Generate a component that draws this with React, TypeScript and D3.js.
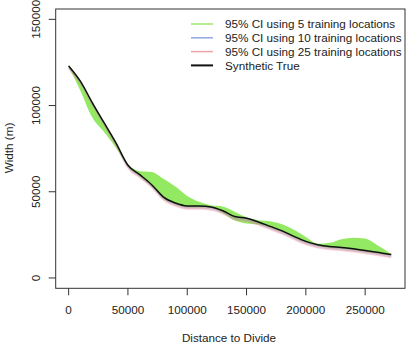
import React from 'react';
import * as d3 from 'd3';

// distance to divide (m)
const dist = [0, 10000, 20000, 30000, 40000, 50000, 60000, 70000, 80000, 90000, 100000, 110000, 120000, 130000, 140000, 150000, 160000, 170000, 180000, 190000, 200000, 210000, 220000, 230000, 240000, 250000, 260000, 270000, 272000];

// synthetic true width
const truth = [123000, 114000, 101600, 89900, 78200, 65400, 59900, 54100, 46900, 43500, 41800, 41700, 41200, 39000, 35600, 34600, 32500, 29900, 27300, 24100, 21200, 19300, 18200, 17700, 16900, 15900, 14900, 13800, 13600];

// 95% CI, 5 training locations
const ci5Lo = [122500, 108500, 93000, 84500, 75400, 64700, 58900, 53100, 45900, 42600, 40900, 40800, 40600, 37500, 33300, 31600, 31000, 29000, 26500, 23300, 20400, 18500, 17400, 16900, 16100, 15100, 14200, 13200, 13100];
const ci5Hi = [123500, 114600, 102200, 90500, 78800, 66200, 61900, 61500, 57500, 53000, 47600, 44200, 42200, 41500, 38400, 35200, 33500, 32900, 31100, 27900, 23700, 19900, 20400, 22500, 23300, 22900, 19100, 14800, 13900];

// 95% CI, 10 training locations
const ci10Lo = [121400, 112400, 100000, 88300, 76600, 63800, 58300, 52500, 45300, 41900, 40200, 40100, 39600, 37400, 34000, 33000, 30900, 28300, 25700, 22500, 19600, 17700, 16600, 16100, 15300, 14300, 13300, 12200, 12000];
const ci10Hi = [123200, 114200, 101800, 90100, 78400, 65600, 60100, 54300, 47100, 43700, 42000, 41900, 41400, 39200, 35800, 34800, 32700, 30100, 27500, 24300, 21400, 19500, 18400, 17900, 17100, 16100, 15100, 14000, 13800];

// 95% CI, 25 training locations
const ci25Lo = [120800, 111800, 99400, 87700, 76000, 63200, 57700, 51900, 44700, 41300, 39600, 39500, 39000, 36800, 33400, 32400, 30300, 27700, 25100, 21900, 19000, 17100, 16000, 15500, 14700, 13700, 12700, 11600, 11400];
const ci25Hi = [122600, 113600, 101200, 89500, 77800, 65000, 59500, 53700, 46500, 43100, 41400, 41300, 40800, 38600, 35200, 34200, 32100, 29500, 26900, 23700, 20800, 18900, 17800, 17300, 16500, 15500, 14500, 13400, 13200];

const xTicks = [0, 50000, 100000, 150000, 200000, 250000];
const yTicks = [0, 50000, 100000, 150000];

const legendItems = [
  { label: '95% CI using 5 training locations', color: '#9be86c', w: 1.5 },
  { label: '95% CI using 10 training locations', color: '#93a6e2', w: 1.5 },
  { label: '95% CI using 25 training locations', color: '#eea3aa', w: 1.5 },
  { label: 'Synthetic True', color: '#111', w: 2 },
];

const W = 419, H = 351;
const box = { left: 55.7, right: 405, top: 9, bottom: 288.3 };
const FONT = '"Liberation Sans", Arial, Helvetica, sans-serif';
const FS = 11.7;

export default function App() {
  const x = d3.scaleLinear().domain([-10900, 283600]).range([box.left, box.right]);
  const y = d3.scaleLinear().domain([-6000, 156000]).range([box.bottom, box.top]);

  const band = (lo: number[], hi: number[]) =>
    d3.area<number>()
      .x((_, i) => x(dist[i]))
      .y0((_, i) => y(lo[i]))
      .y1((_, i) => y(hi[i]))
      .curve(d3.curveMonotoneX)(dist);

  const truthLine = d3.line<number>()
    .x((_, i) => x(dist[i]))
    .y((_, i) => y(truth[i]))
    .curve(d3.curveMonotoneX)(dist);

  return (
    <svg width={W} height={H} style={{ position: 'absolute', left: 0, top: 0, background: '#fff' }}
      fontFamily={FONT} fontSize={FS}>
      <rect width={W} height={H} fill="#fff" />

      {/* bands */}
      <path d={band(ci5Lo, ci5Hi) || ''} fill="#93ea62" />
      <path d={band(ci10Lo, ci10Hi) || ''} fill="rgba(120,140,230,0.35)" />
      <path d={band(ci25Lo, ci25Hi) || ''} fill="rgba(240,130,140,0.35)" />
      <path d={truthLine || ''} fill="none" stroke="#111" strokeWidth={1.5} />

      {/* box */}
      <rect x={box.left} y={box.top} width={box.right - box.left} height={box.bottom - box.top}
        fill="none" stroke="#333" strokeWidth={1} />

      {/* x axis */}
      {xTicks.map(t => (
        <g key={'x' + t}>
          <line x1={x(t)} x2={x(t)} y1={box.bottom} y2={box.bottom + 7} stroke="#333" />
          <text x={x(t)} y={314} textAnchor="middle" fill="#222">{t}</text>
        </g>
      ))}
      <text x={229} y={341.5} textAnchor="middle" fill="#222">Distance to Divide</text>

      {/* y axis */}
      {yTicks.map(t => (
        <g key={'y' + t}>
          <line x1={box.left - 7} x2={box.left} y1={y(t)} y2={y(t)} stroke="#333" />
          <text transform={`translate(39.5,${y(t)}) rotate(-90)`} textAnchor="middle" fill="#222">{t}</text>
        </g>
      ))}
      <text transform={`translate(12.5,148) rotate(-90)`} textAnchor="middle" fill="#222">Width (m)</text>

      {/* legend */}
      {legendItems.map((d, i) => (
        <g key={d.label} transform={`translate(0,${24 + i * 13.8})`}>
          <line x1={191} x2={213} y1={0} y2={0} stroke={d.color} strokeWidth={d.w} />
          <text x={225} y={0} dy="0.35em" fill="#222">{d.label}</text>
        </g>
      ))}
    </svg>
  );
}
